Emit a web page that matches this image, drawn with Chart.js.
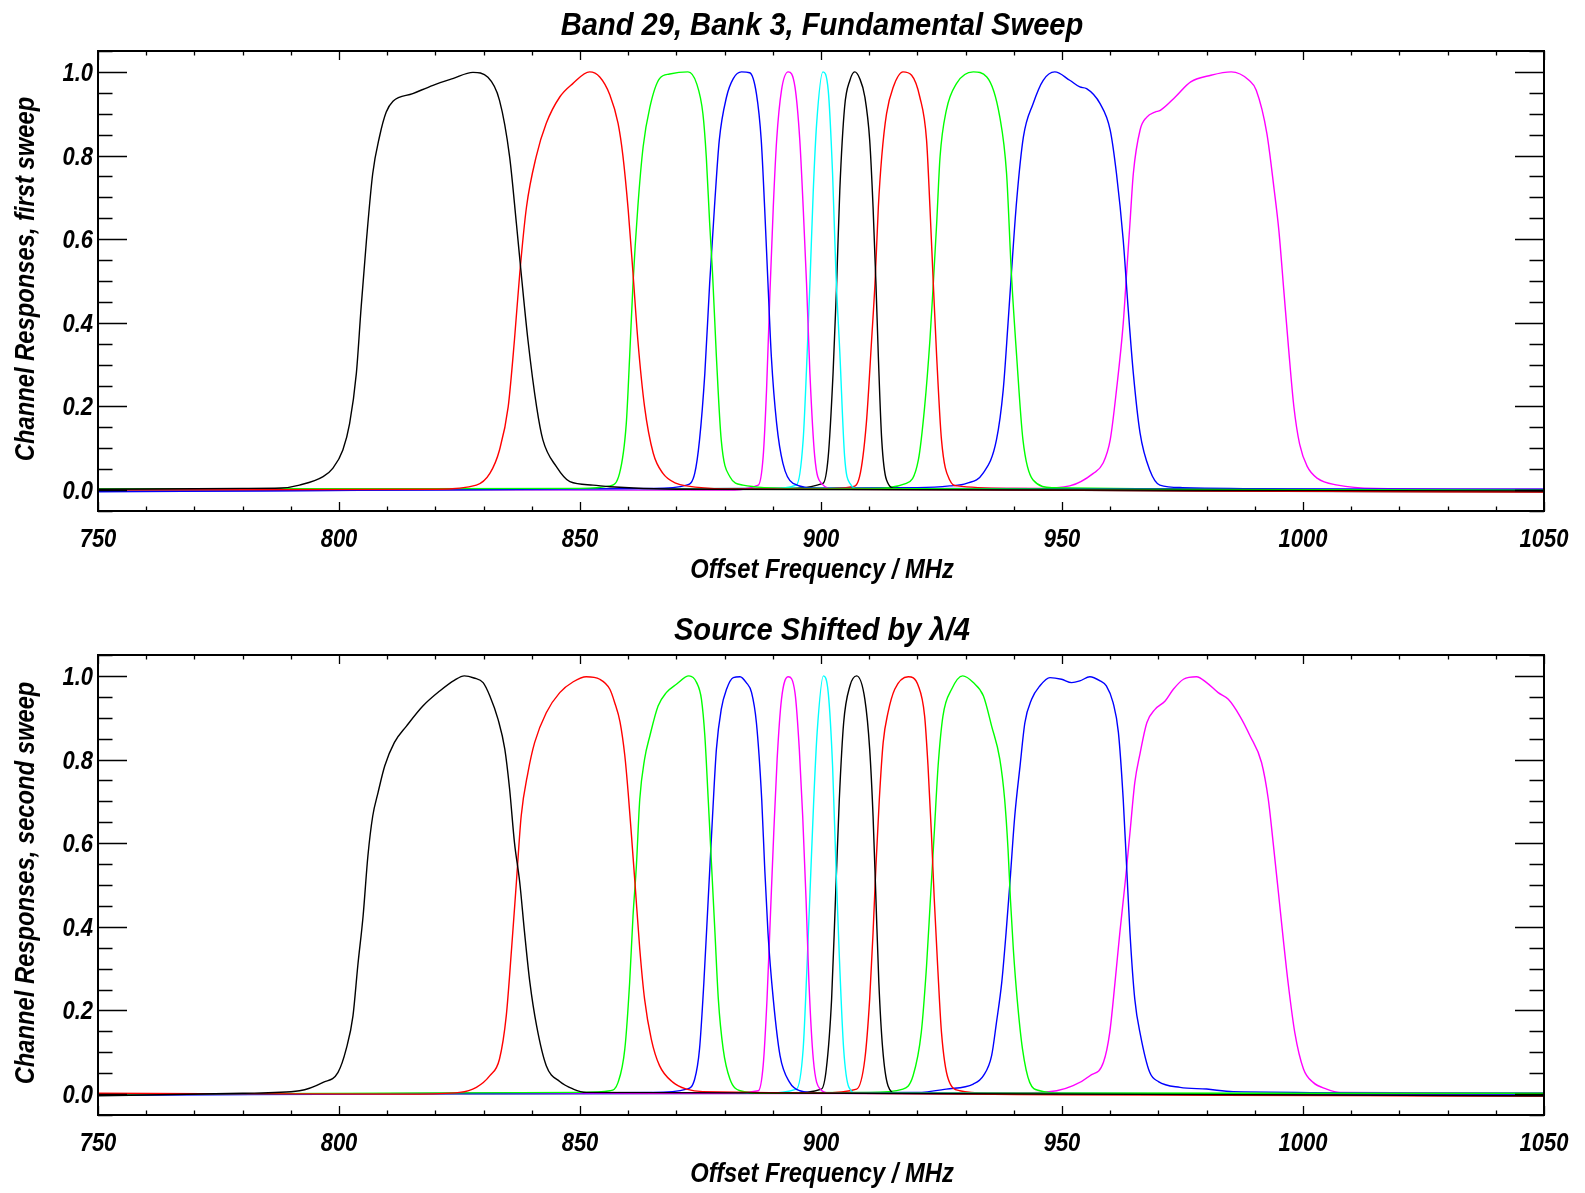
<!DOCTYPE html>
<html>
<head>
<meta charset="utf-8">
<script src="https://cdn.jsdelivr.net/npm/chart.js@4.4.1/dist/chart.umd.min.js"></script>
<style>
  body { margin: 0; background: #fff; overflow: hidden; }
  canvas { position: absolute; left: 0; }
  #topChart { top: 0; }
  #bottomChart { top: 604px; }
</style>
</head>
<body>
<canvas id="topChart" width="1585" height="604"></canvas>
<canvas id="bottomChart" width="1585" height="604"></canvas>
<script>
// Axis ticks (labelled)
const xTicks = [750, 800, 850, 900, 950, 1000, 1050];
const yTicks = [0.0, 0.2, 0.4, 0.6, 0.8, 1.0];

// Channel colours (same order in both sweeps)
const channelColors = ['#000000', '#ff0000', '#00ff00', '#0000ff', '#ff00ff', '#00ffff',
                       '#000000', '#ff0000', '#00ff00', '#0000ff', '#ff00ff'];

// First sweep: [offset frequency MHz, response]
const top1 = [[750,0.002],[780,0.004],[788,0.005],[791.8,0.012],[796.7,0.032],[798.7,0.052],[800.8,0.096],[802.2,0.159],[803.6,0.279],[804.6,0.438],[805.7,0.598],[807.0,0.757],[808.4,0.845],[809.8,0.904],[811.2,0.930],[815.3,0.948],[819.5,0.968],[823.6,0.984],[827.8,0.999],[830.9,0.987],[833.3,0.932],[835.4,0.797],[836.8,0.638],[837.8,0.518],[839.2,0.359],[841.0,0.199],[842.3,0.120],[845.1,0.056],[847.9,0.020],[852.7,0.012],[856.2,0.008],[870,0.002],[1050,-0.002]];
const top2 = [[750,0],[820,0.002],[828.5,0.012],[831.3,0.040],[833.3,0.096],[835.1,0.199],[836.4,0.359],[837.5,0.518],[838.9,0.677],[840.9,0.797],[843.0,0.877],[845.8,0.940],[848.5,0.972],[852.0,1.0],[854.1,0.988],[856.2,0.945],[857.9,0.877],[858.9,0.800],[860.0,0.670],[861.0,0.518],[862.0,0.359],[863.4,0.199],[865.2,0.088],[867.2,0.040],[870.0,0.016],[872.1,0.010],[880,0.003],[1050,-0.004]];
const top3 = [[750,0.003],[850,0.004],[856.2,0.010],[858.2,0.040],[859.6,0.159],[860.3,0.319],[861.0,0.494],[862.0,0.677],[863.1,0.821],[864.5,0.916],[866.5,0.984],[868.6,0.995],[872.4,1.0],[874.2,0.972],[875.5,0.900],[876.2,0.797],[876.9,0.638],[877.5,0.518],[878.3,0.319],[879.3,0.120],[881.1,0.032],[883.8,0.012],[895,0.004],[1050,0]];
const top4 = [[750,-0.004],[865,0.004],[872.1,0.012],[873.8,0.040],[874.8,0.120],[875.9,0.279],[876.9,0.494],[877.9,0.677],[878.9,0.837],[880.4,0.940],[881.8,0.984],[883.5,1.0],[885.2,0.998],[886.6,0.948],[887.6,0.837],[888.3,0.677],[889.0,0.494],[889.7,0.319],[890.8,0.159],[892.1,0.064],[894.2,0.016],[900,0.004],[1050,0.002]];
const top5 = [[750,0.002],[880,0.0],[887.0,0.012],[888.0,0.080],[888.7,0.239],[889.4,0.470],[890.1,0.677],[890.8,0.837],[891.8,0.956],[893.2,1.0],[894.6,0.964],[895.6,0.837],[896.3,0.677],[897.0,0.494],[897.7,0.279],[898.7,0.080],[900.1,0.016],[903,0.002],[1050,0]];
const top6 = [[750,0],[888,0.002],[894.9,0.012],[896.3,0.120],[897.1,0.319],[897.7,0.494],[898.4,0.717],[899.1,0.877],[900.4,1.0],[901.5,0.956],[902.4,0.757],[903.1,0.518],[903.9,0.330],[904.9,0.080],[906.0,0.016],[908,0.002],[1050,0]];
const top7 = [[750,0],[890,0.002],[900.4,0.016],[901.5,0.080],[902.5,0.279],[903.2,0.478],[903.9,0.717],[904.9,0.916],[906.0,0.980],[907.0,1.0],[908.0,0.985],[909.1,0.940],[910.1,0.837],[910.8,0.677],[911.4,0.494],[911.9,0.319],[912.6,0.120],[913.6,0.024],[915.5,0.004],[1050,-0.004]];
const top8 = [[750,0],[900,0.003],[906.5,0.008],[908.0,0.032],[909.4,0.159],[910.5,0.359],[911.2,0.494],[911.9,0.677],[912.6,0.797],[913.6,0.900],[915.0,0.964],[917.0,1.0],[918.8,0.992],[920.5,0.940],[921.9,0.837],[922.6,0.677],[923.3,0.494],[924.0,0.319],[925.0,0.120],[926.7,0.024],[928.3,0.010],[940,0.004],[1050,-0.004]];
const top9 = [[750,0.002],[910,0.004],[917.7,0.016],[920.2,0.072],[921.5,0.199],[922.6,0.359],[923.3,0.494],[924.0,0.638],[924.7,0.797],[926.0,0.908],[928.1,0.972],[931.6,1.0],[934.4,0.988],[937.1,0.892],[938.5,0.757],[939.5,0.518],[940.6,0.319],[941.9,0.120],[944.0,0.024],[948,0.006],[1050,0]];
const top10 = [[750,-0.002],[920,0.006],[926.7,0.010],[930.2,0.016],[933.6,0.040],[936.4,0.120],[937.8,0.239],[938.8,0.398],[939.5,0.518],[940.6,0.693],[942.0,0.845],[944.0,0.924],[946.1,0.980],[948.5,1.0],[951.6,0.980],[953.7,0.964],[955.1,0.960],[957.9,0.924],[960.0,0.861],[961.3,0.757],[962.7,0.598],[963.7,0.438],[964.8,0.279],[966.2,0.136],[968.2,0.048],[970.3,0.012],[975,0.006],[1050,0]];
const top11 = [[750,0],[945,0.004],[951.6,0.010],[956.5,0.040],[958.5,0.064],[960.0,0.120],[961.3,0.239],[962.7,0.398],[963.4,0.518],[964.1,0.638],[964.8,0.757],[966.2,0.861],[967.6,0.892],[969.3,0.904],[970.4,0.908],[973.5,0.940],[976.7,0.976],[980.9,0.992],[985.1,1.0],[988.8,0.980],[990.3,0.956],[992.5,0.853],[994.0,0.720],[995.0,0.620],[996.0,0.480],[997.0,0.340],[998.1,0.200],[999.3,0.110],[1000.9,0.056],[1003.0,0.028],[1007.2,0.012],[1015,0.004],[1050,0.002]];

// Second sweep (source shifted by lambda/4)
const bot1 = [[750,-0.004],[780,0.002],[791.8,0.008],[796.7,0.028],[799.8,0.052],[801.5,0.108],[802.9,0.187],[803.9,0.307],[805.0,0.426],[806.0,0.570],[807.0,0.665],[808.1,0.721],[809.5,0.785],[811.5,0.841],[814.0,0.880],[817.4,0.928],[820.9,0.964],[824.0,0.990],[826.0,1.0],[828.0,0.995],[829.9,0.984],[831.3,0.952],[833.0,0.896],[834.4,0.825],[835.4,0.729],[836.4,0.602],[837.5,0.506],[838.5,0.386],[839.6,0.267],[841.0,0.163],[843.0,0.068],[845.8,0.030],[848.6,0.012],[851.3,0.004],[1050,-0.004]];
const bot2 = [[750,0.002],[815,0.0],[825.0,0.004],[828.5,0.016],[831.3,0.044],[833.3,0.084],[834.7,0.187],[835.8,0.347],[836.8,0.506],[837.8,0.665],[839.2,0.769],[840.6,0.841],[843.0,0.912],[845.8,0.960],[848.6,0.986],[851.3,0.998],[854.1,0.992],[856.2,0.968],[857.2,0.936],[858.3,0.890],[859.3,0.809],[860.0,0.720],[860.7,0.615],[861.4,0.506],[862.4,0.347],[863.4,0.227],[864.8,0.131],[866.5,0.068],[869.3,0.028],[872.1,0.012],[875.5,0.006],[1050,-0.004]];
const bot3 = [[750,0],[850,0.004],[856.2,0.008],[857.9,0.028],[859.3,0.108],[860.3,0.267],[861.0,0.426],[861.7,0.546],[862.4,0.705],[863.4,0.801],[864.5,0.857],[866.2,0.928],[867.9,0.960],[870.0,0.980],[872.6,1.0],[874.2,0.984],[875.2,0.944],[875.9,0.857],[876.6,0.705],[877.3,0.546],[878.0,0.386],[878.7,0.227],[879.7,0.108],[881.1,0.036],[883.2,0.008],[888,0.002],[1050,0.002]];
const bot4 = [[750,-0.002],[865,0.004],[872.1,0.012],[873.8,0.036],[874.8,0.108],[875.7,0.267],[876.6,0.466],[877.5,0.665],[878.3,0.825],[879.3,0.920],[880.4,0.968],[881.8,0.996],[883.2,0.998],[884.5,0.984],[885.6,0.960],[886.6,0.888],[887.7,0.705],[888.3,0.546],[889.0,0.386],[890.1,0.227],[891.5,0.092],[893.5,0.028],[895.6,0.008],[900,0.002],[1050,0]];
const bot5 = [[750,0],[880,0.002],[887.0,0.008],[888.0,0.068],[888.8,0.227],[889.5,0.426],[890.2,0.625],[890.9,0.801],[891.8,0.944],[893.2,0.998],[894.6,0.960],[895.5,0.825],[896.2,0.665],[896.9,0.466],[897.5,0.267],[898.4,0.084],[899.8,0.012],[902,0.002],[1050,0]];
const bot6 = [[750,0],[888,0.002],[894.9,0.012],[896.3,0.108],[897.1,0.307],[897.8,0.506],[898.5,0.705],[899.2,0.865],[900.5,1.0],[901.5,0.960],[902.4,0.785],[903.1,0.546],[903.8,0.330],[904.7,0.108],[905.8,0.016],[907.5,0.002],[1050,0]];
const bot7 = [[750,0],[893,0.002],[900.1,0.012],[901.1,0.060],[902.2,0.227],[903.0,0.466],[903.8,0.705],[904.7,0.888],[906.0,0.976],[907.4,1.0],[909.1,0.944],[910.1,0.825],[910.8,0.665],[911.4,0.466],[912.0,0.267],[912.8,0.108],[913.9,0.020],[915.5,0.002],[1050,-0.004]];
const bot8 = [[750,0],[900,0.003],[907.4,0.012],[909.1,0.084],[910.1,0.227],[910.8,0.386],[911.4,0.546],[912.1,0.705],[912.9,0.841],[913.9,0.912],[915.3,0.968],[918.1,0.998],[920.2,0.976],[921.5,0.904],[922.2,0.785],[922.9,0.625],[923.5,0.466],[924.2,0.307],[925.0,0.147],[926.4,0.036],[928.8,0.008],[935,0.002],[1050,-0.004]];
const bot9 = [[750,0],[910,0.004],[917.0,0.012],[919.1,0.044],[920.8,0.147],[921.9,0.307],[922.7,0.466],[923.5,0.625],[924.3,0.785],[925.3,0.904],[927.1,0.968],[929.4,1.0],[931.6,0.984],[933.7,0.952],[935.4,0.880],[937.1,0.801],[938.1,0.705],[938.8,0.586],[939.3,0.466],[939.9,0.347],[940.7,0.227],[941.8,0.108],[943.3,0.028],[945.4,0.008],[950,0.002],[1050,0]];
const bot10 = [[750,-0.002],[920,0.004],[926.0,0.012],[931.6,0.024],[933.7,0.044],[935.4,0.092],[936.4,0.171],[937.5,0.267],[938.4,0.386],[939.2,0.506],[940.2,0.665],[941.3,0.785],[942.3,0.888],[943.7,0.944],[945.4,0.976],[947.5,0.996],[949.9,0.992],[952.0,0.984],[953.7,0.988],[955.8,0.998],[957.9,0.988],[959.2,0.976],[960.6,0.936],[961.7,0.865],[962.7,0.705],[963.4,0.546],[964.1,0.386],[965.1,0.227],[966.3,0.140],[968.2,0.052],[970.0,0.030],[974.5,0.016],[980.0,0.012],[985.5,0.006],[1050,0.002]];
const bot11 = [[750,0],[940,0.002],[948.9,0.008],[952.3,0.020],[955.8,0.044],[958.6,0.076],[959.9,0.147],[961.0,0.267],[962.0,0.386],[963.1,0.506],[964.1,0.625],[965.1,0.745],[966.2,0.815],[967.6,0.888],[969.3,0.920],[971.4,0.940],[973.1,0.968],[975.2,0.992],[977.9,0.998],[980.0,0.984],[982.4,0.960],[984.5,0.944],[986.9,0.904],[989.0,0.857],[991.4,0.793],[992.8,0.705],[993.8,0.602],[994.9,0.482],[995.9,0.371],[996.9,0.267],[998.3,0.147],[1000.1,0.060],[1002.1,0.028],[1004.9,0.012],[1007.7,0.004],[1050,0.002]];

const topSweep = [top1, top2, top3, top4, top5, top6, top7, top8, top9, top10, top11];
const bottomSweep = [bot1, bot2, bot3, bot4, bot5, bot6, bot7, bot8, bot9, bot10, bot11];

const FONT = "'Liberation Sans', Arial, sans-serif";

// Draw a bold italic label, squeezed horizontally to look like the condensed original font
function drawLabel(ctx, text, x, y, size, sx, align, rotate) {
    ctx.save();
    ctx.translate(x, y);
    if (rotate) ctx.rotate(-Math.PI / 2);
    ctx.scale(sx, 1);
    ctx.font = 'italic bold ' + size + 'px ' + FONT;
    ctx.fillStyle = '#000';
    ctx.textAlign = align;
    ctx.textBaseline = 'alphabetic';
    ctx.fillText(text, 0, 0);
    ctx.restore();
}

// Frame, inward ticks on all four sides, tick labels and titles
const framePlugin = {
    id: 'frame',
    afterDraw(chart) {
        const { ctx, chartArea: a, scales: { x, y } } = chart;
        const opts = chart.options.plugins.frame;
        ctx.save();
        ctx.strokeStyle = '#000';
        ctx.lineWidth = 1.3;
        ctx.beginPath();
        for (let v = 750; v <= 1050; v += 10) {
            const px = Math.round(x.getPixelForValue(v)) + 0.5;
            const len = (v % 50 === 0) ? 9 : 4.5;
            ctx.moveTo(px, a.bottom); ctx.lineTo(px, a.bottom - len);
            ctx.moveTo(px, a.top); ctx.lineTo(px, a.top + len);
        }
        for (let i = -1; i <= 21; i++) {
            const v = i * 0.05;
            const py = Math.round(y.getPixelForValue(v)) + 0.5;
            const len = (i % 4 === 0) ? 29 : 14.5;
            ctx.moveTo(a.left, py); ctx.lineTo(a.left + len, py);
            ctx.moveTo(a.right, py); ctx.lineTo(a.right - len, py);
        }
        ctx.stroke();
        ctx.lineWidth = 2;
        ctx.strokeRect(a.left, a.top, a.right - a.left, a.bottom - a.top);
        ctx.restore();

        xTicks.forEach(v => drawLabel(ctx, String(v), x.getPixelForValue(v), a.bottom + 36, 25, 0.88, 'center'));
        yTicks.forEach(v => drawLabel(ctx, v.toFixed(1), a.left - 5, y.getPixelForValue(v) + 9, 25, 0.88, 'right'));

        const cx = (a.left + a.right) / 2;
        drawLabel(ctx, opts.title, cx + 1, opts.titleY, 32, 0.91, 'center');
        drawLabel(ctx, 'Offset Frequency / MHz', cx + 1, a.bottom + 67, 27, 0.88, 'center');
        drawLabel(ctx, opts.yTitle, 34, (a.top + a.bottom) / 2 - 2, 27, 0.88, 'center', true);
    }
};

function makeChart(id, title, titleY, yTitle, sweep) {
    const datasets = sweep.map((pts, i) => ({
        label: 'Channel ' + (i + 1),
        data: pts,
        borderColor: channelColors[i],
        borderWidth: 1.4,
        pointRadius: 0,
        fill: false,
        cubicInterpolationMode: 'monotone'
    }));

    return new Chart(document.getElementById(id).getContext('2d'), {
        type: 'line',
        data: { datasets },
        plugins: [framePlugin],
        options: {
            responsive: false,
            animation: false,
            devicePixelRatio: 1,
            layout: { padding: { top: 51, right: 41, left: 0, bottom: 0 } },
            plugins: {
                legend: { display: false },
                tooltip: { enabled: false },
                frame: { title, titleY, yTitle }
            },
            scales: {
                x: {
                    type: 'linear',
                    min: 750,
                    max: 1050,
                    afterFit: s => { s.height = 93; },
                    grid: { display: false, drawTicks: false },
                    border: { display: false },
                    ticks: { display: false }
                },
                y: {
                    type: 'linear',
                    min: -0.05,
                    max: 1.05,
                    afterFit: s => { s.width = 98; },
                    grid: { display: false, drawTicks: false },
                    border: { display: false },
                    ticks: { display: false }
                }
            }
        }
    });
}

makeChart('topChart', 'Band 29, Bank 3, Fundamental Sweep', 35, 'Channel Responses, first sweep', topSweep);
makeChart('bottomChart', 'Source Shifted by \u03bb/4', 36, 'Channel Responses, second sweep', bottomSweep);
</script>
</body>
</html>
